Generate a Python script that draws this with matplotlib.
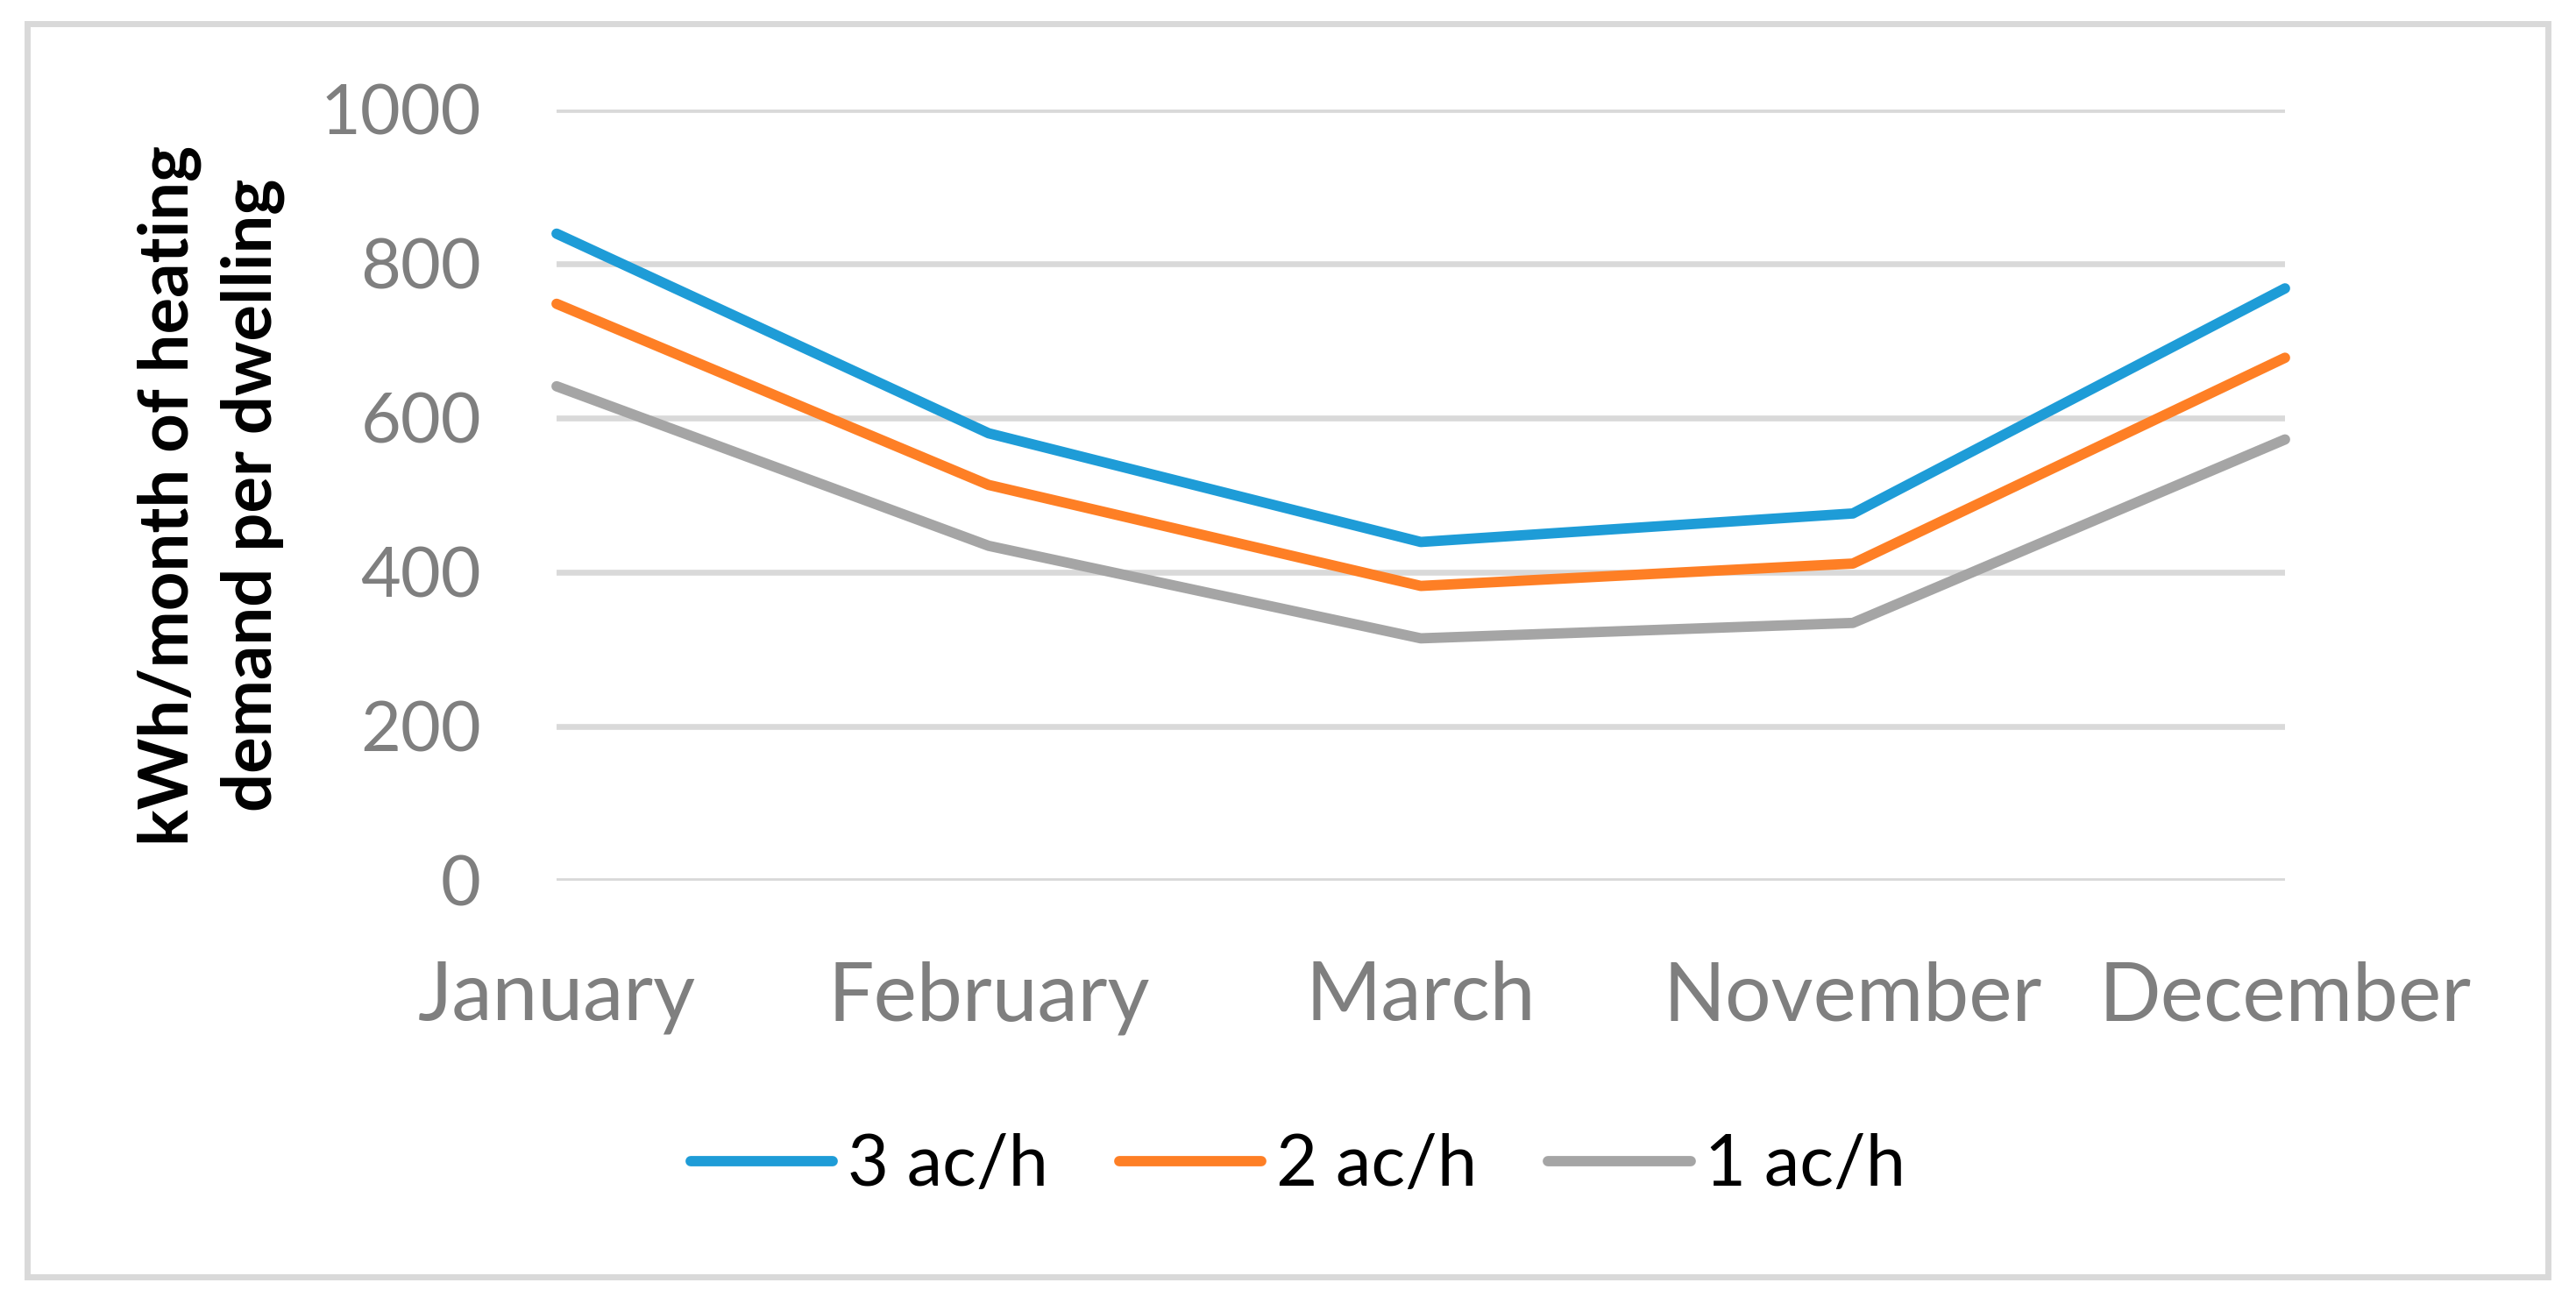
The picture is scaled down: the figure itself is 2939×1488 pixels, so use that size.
import matplotlib.pyplot as plt
from matplotlib.patches import Rectangle

plt.rcParams['font.family'] = ['Lato', 'DejaVu Sans']

months = ['January', 'February', 'March', 'November', 'December']
ac3 = [839, 580, 439, 476, 768]
ac2 = [748, 513, 382, 411, 678]
ac1 = [641, 434, 314, 334, 572]
series = ['3 ac/h', '2 ac/h', '1 ac/h']
colors = ['#1e9cd7', '#fe7f25', '#a5a5a5']
yticks = [0, 200, 400, 600, 800, 1000]

W, H = 2939, 1488
fig = plt.figure(figsize=(W / 100, H / 100), dpi=100)

# light gray outer frame like the Excel chart area
fig.patches.append(Rectangle((31 / W, 1 - 1457 / H), (2907 - 31) / W, (1457 - 27) / H,
                             transform=fig.transFigure, fill=False,
                             edgecolor='#d9d9d9', linewidth=5))

ax = fig.add_axes([635 / W, 1 - 1004.6 / H, (2607 - 635) / W, (1004.6 - 125) / H])

x = range(len(months))
for vals, name, c in zip([ac3, ac2, ac1], series, colors):
    ax.plot(x, vals, color=c, lw=8.5, label=name, solid_capstyle='round',
            solid_joinstyle='round', clip_on=False)

ax.set_xlim(0, len(months) - 1)
ax.set_ylim(0, 1000)
ax.set_yticks(yticks)
ax.set_xticks(list(x))
ax.set_xticklabels(months)
ax.grid(axis='y', color='#d9d9d9', lw=4.8)
ax.set_axisbelow(True)
for s in ax.spines.values():
    s.set_visible(False)
ax.tick_params(axis='y', length=0, pad=62, labelsize=57, labelcolor='#7f7f7f')
ax.tick_params(axis='x', length=0, pad=66, labelsize=67, labelcolor='#7f7f7f')

fig.text(241 / W, 1 - 565 / H, 'kWh/month of heating\ndemand per dwelling',
         rotation=90, ha='center', va='center', multialignment='center',
         fontsize=56, fontweight='bold', color='black', linespacing=1.38)

fig.legend(loc='center', bbox_to_anchor=(1481 / W, 1 - 1330 / H), ncol=3, frameon=False,
           fontsize=58.5, handlelength=2.0, handletextpad=0.2, columnspacing=1.0,
           labelcolor='black')

fig.savefig('out.png', dpi=100)
